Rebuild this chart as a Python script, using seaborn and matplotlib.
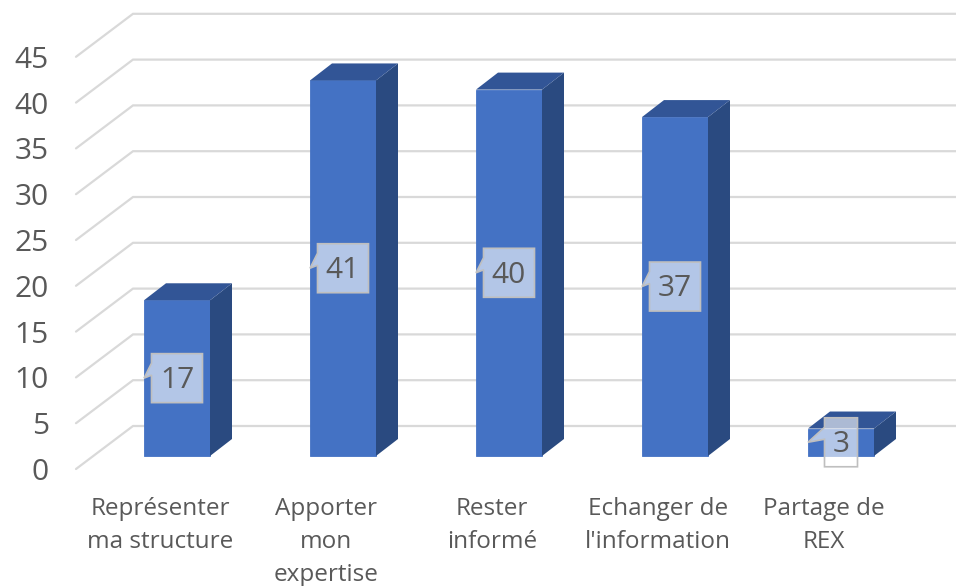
import matplotlib
matplotlib.use("Agg")
import matplotlib.pyplot as plt
from matplotlib.patches import Polygon
from matplotlib.transforms import ScaledTranslation
import pandas as pd
import seaborn as sns

categories = ["Représenter\nma structure", "Apporter\nmon\nexpertise", "Rester\ninformé",
              "Echanger de\nl'information", "Partage de\nREX"]
values = [17, 41, 40, 37, 3]
tick_values = [0, 5, 10, 15, 20, 25, 30, 35, 40, 45]

TEXT = "#595959"
GRID = "#D9D9D9"
FRONT = "#4472C4"
SIDE = "#2A4A80"
TOP = "#325596"

# pixel sizes -> data units of the main axes
PX_X = 1 / 166
PX_Y = 1 / 9.16


def draw_depth(ax, bar):
    x0, x1 = bar.get_x(), bar.get_x() + bar.get_width()
    h = bar.get_height()
    dx, dy = 22 * PX_X, 17 * PX_Y
    ax.add_patch(Polygon([(x1, 0), (x1 + dx, dy), (x1 + dx, h + dy), (x1, h)],
                         fc=SIDE, ec="none", zorder=3))
    ax.add_patch(Polygon([(x0, h), (x0 + dx, h + dy), (x1 + dx, h + dy), (x1, h)],
                         fc=TOP, ec="none", zorder=3))


def draw_callout(ax, bar, value, w, h):
    xc = bar.get_x() + bar.get_width() / 2
    yc = value / 2
    l, r = xc - w / 2 * PX_X, xc + w / 2 * PX_X
    t, b = yc + h / 2 * PX_Y, yc - h / 2 * PX_Y
    pts = [(l, t), (r, t), (r, b), (l, b), (l, yc + 3 * PX_Y),
           (bar.get_x(), yc), (l, yc + 15 * PX_Y)]
    ax.add_patch(Polygon(pts, fc=(1, 1, 1, 0.6), ec="#BFBFBF", lw=1.2, zorder=4))
    ax.text(xc, yc - 0.25, str(value), ha="center", va="center", color=TEXT, fontsize=21.5, zorder=5)


def main():
    sns.set_theme(style="white")
    plt.rcParams["font.family"] = ["Open Sans", "DejaVu Sans"]

    df = pd.DataFrame({"cat": categories, "val": values})
    fig = plt.figure(figsize=(9.56, 5.86), dpi=100)
    ax = fig.add_axes([60 / 956, 1 - 480 / 586, 896 / 956, 480 / 586])
    sns.barplot(data=df, x="cat", y="val", color=FRONT, saturation=1, width=66 / 166,
                edgecolor=FRONT, linewidth=0.6, ax=ax, zorder=2)
    ax.set_xlim((60 - 177) * PX_X, (956 - 177) * PX_X)
    ax.set_ylim((456 - 480) * PX_Y, 456 * PX_Y)
    ax.set_xlabel("")
    ax.set_ylabel("")
    ax.set_yticks([])
    ax.grid(False)
    sns.despine(ax=ax, left=True, bottom=True)

    # floor/wall lines: wall sits 30 px above the bar base, front edge 13 px below it
    x_front, x_back = (76 - 177) * PX_X, (133 - 177) * PX_X
    x_end = (956 - 177) * PX_X
    for v in tick_values:
        ax.plot([x_front, x_back, x_end],
                [v - 13 * PX_Y, v + 30 * PX_Y, v + 30 * PX_Y],
                color=GRID, lw=1.6, zorder=1, solid_joinstyle="miter")

    bars = list(ax.containers[0])
    for bar, val in zip(bars, values):
        draw_depth(ax, bar)
        wide = val >= 10
        draw_callout(ax, bar, val, 51 if wide else 33, 49)

    # category labels sit left of the bars in the source chart
    ax.tick_params(axis="x", length=0, pad=12.5, labelsize=17.5, labelcolor=TEXT)
    shift = ScaledTranslation(-17 / 100, 0, fig.dpi_scale_trans)
    for lab in ax.get_xticklabels():
        lab.set_transform(lab.get_transform() + shift)
        lab.set_linespacing(1.5)

    # value axis belongs to the front edge of the floor
    front = ax.twinx()
    front.set_ylim((469 - 480) * PX_Y, 469 * PX_Y)
    front.set_yticks(tick_values)
    front.yaxis.tick_left()
    front.tick_params(axis="y", length=0, pad=8, labelsize=21.5, labelcolor=TEXT)
    front.grid(False)
    for s in front.spines.values():
        s.set_visible(False)

    fig.savefig("out.png", dpi=100)


if __name__ == "__main__":
    main()
